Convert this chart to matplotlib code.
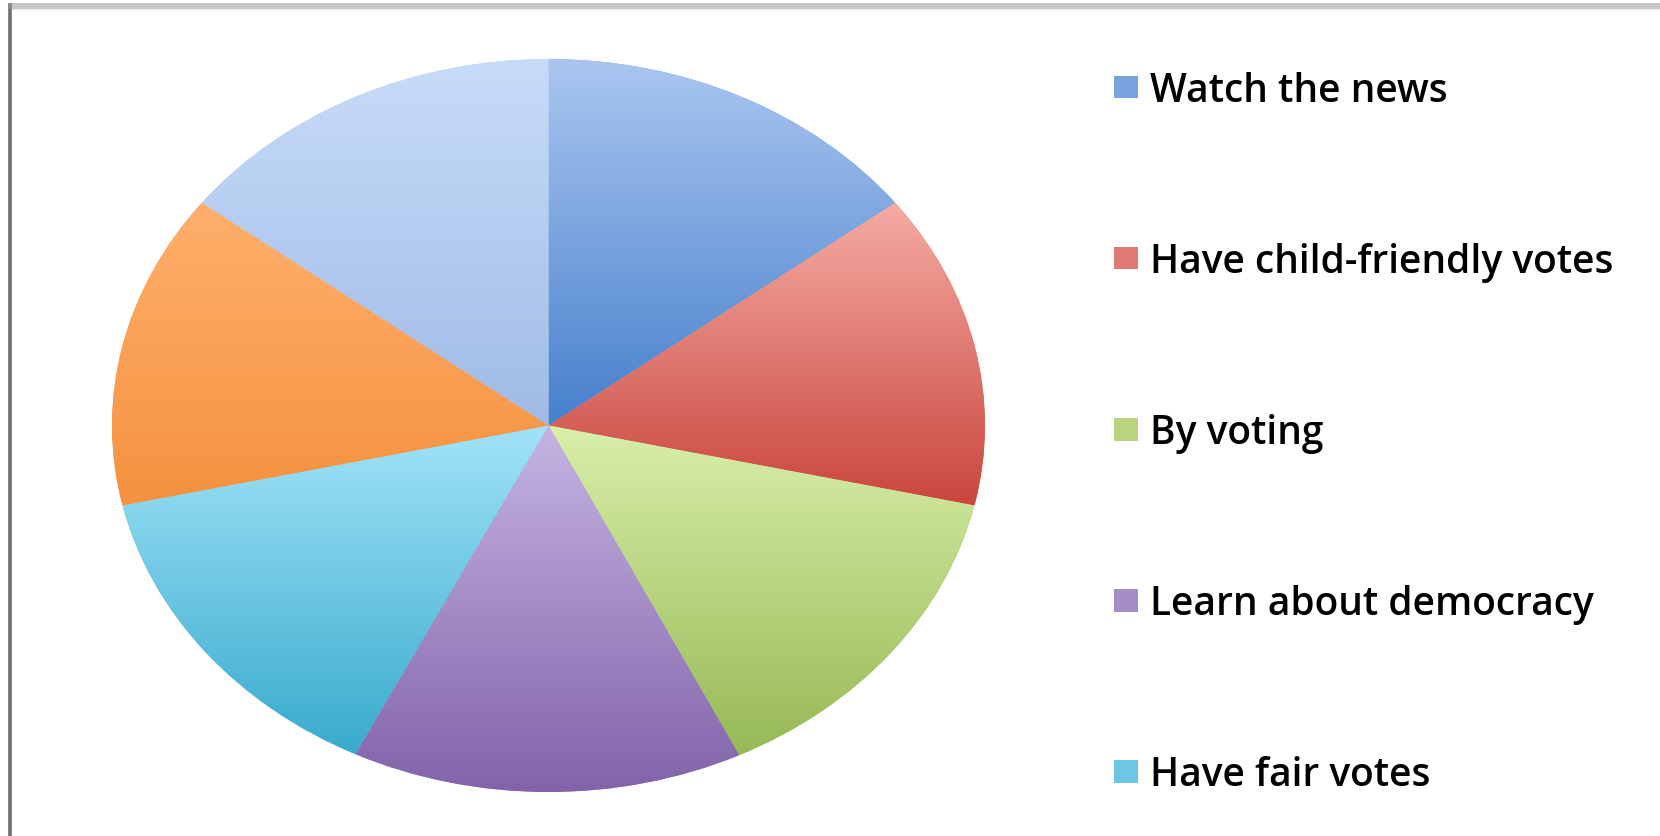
import matplotlib.pyplot as plt
import numpy as np
from matplotlib.colors import to_rgb
from matplotlib.patches import Rectangle

# slice data (clockwise from 12 o'clock)
labels = ['Watch the news', 'Have child-friendly votes', 'By voting',
          'Learn about democracy', 'Have fair votes', '', '']
values = [14.6, 13.9, 14.3, 14.5, 14.2, 13.9, 14.6]

# gradient colours for each slice: light at the top, dark at the bottom
top_colors = ['#abc6f0', '#f5aca5', '#d9efab', '#c6b4e2', '#a2e3f8', '#ffb06c', '#c8dcf9']
bottom_colors = ['#4680cc', '#c9463d', '#97b955', '#8263aa', '#38abcd', '#f5913f', '#9fbbe6']

W, H = 1660, 837
fig = plt.figure(figsize=(W / 100, H / 100), dpi=100)
fig.patch.set_facecolor('white')

ax = fig.add_axes([112 / W, 44 / H, 873 / W, 733 / H])
mid_colors = [tuple((np.array(to_rgb(t)) + np.array(to_rgb(b))) / 2)
              for t, b in zip(top_colors, bottom_colors)]
wedges, _ = ax.pie(values, startangle=90, counterclock=False, radius=1,
                   colors=mid_colors, wedgeprops=dict(linewidth=0))

# vertical gradient inside each wedge
for w, tc, bc in zip(wedges, top_colors, bottom_colors):
    th = np.radians(np.linspace(w.theta1, w.theta2, 200))
    xs = np.concatenate([[0], np.cos(th)])
    ys = np.concatenate([[0], np.sin(th)])
    n = 256
    f = np.linspace(0, 1, n)[:, None]
    grad = (1 - f) * np.array(to_rgb(tc)) + f * np.array(to_rgb(bc))
    img = ax.imshow(grad[:, None, :], extent=(xs.min(), xs.max(), ys.min(), ys.max()),
                    origin='upper', aspect='auto', interpolation='bilinear', zorder=2)
    img.set_clip_path(w)

ax.set_aspect('auto')
ax.set_xlim(-1, 1)
ax.set_ylim(-1, 1)
ax.axis('off')

# legend (only the first five entries are visible)
fig.legend(wedges[:5], labels[:5], loc='upper left',
           bbox_to_anchor=(1114 / W, 1 - 72 / H), frameon=False,
           prop=dict(family='Open Sans', size=28, weight='semibold'),
           handlelength=0.62, handleheight=0.51, handletextpad=0.31,
           labelspacing=3.37, borderpad=0, borderaxespad=0)

# picture frame: grey band on top, dark line on the left
fig.add_artist(Rectangle((8 / W, 1 - 10 / H), 1, 6 / H, transform=fig.transFigure,
                         color='#c6c6c6', lw=0))
for i, a in enumerate([0.35, 0.2, 0.1]):
    fig.add_artist(Rectangle((12 / W, 1 - (11 + i) / H), 1, 1 / H,
                             transform=fig.transFigure, color='#c6c6c6', alpha=a, lw=0))
fig.add_artist(Rectangle((8 / W, 0), 4 / W, 1 - 4 / H, transform=fig.transFigure,
                         color='#8a8a8a', lw=0))
fig.add_artist(Rectangle((9 / W, 0), 2 / W, 1 - 10 / H, transform=fig.transFigure,
                         color='#707070', lw=0))

fig.savefig('out.png', dpi=100)
